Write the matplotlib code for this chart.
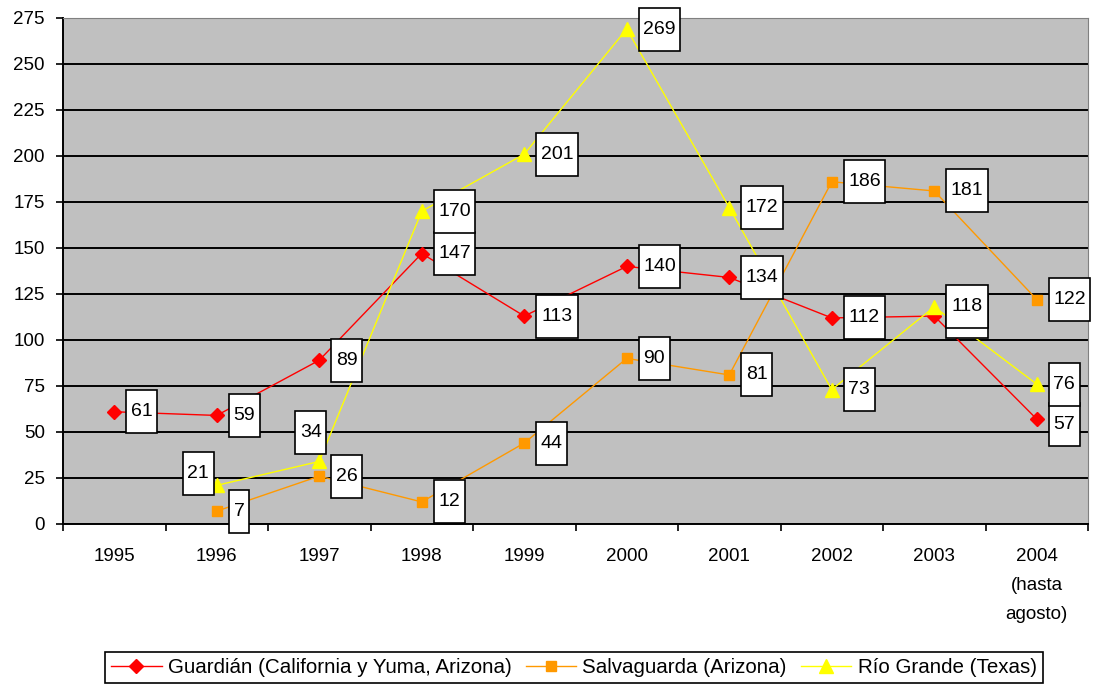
import matplotlib
matplotlib.use("Agg")
import matplotlib.pyplot as plt
from matplotlib.offsetbox import DrawingArea, AnnotationBbox
from matplotlib.patches import Rectangle
from matplotlib.text import Text

plt.rcParams['font.family'] = ['Liberation Sans', 'DejaVu Sans']

years = ["1995", "1996", "1997", "1998", "1999", "2000", "2001", "2002", "2003", "2004\n(hasta\nagosto)"]
guardian = [61, 59, 89, 147, 113, 140, 134, 112, 113, 57]
salvaguarda = [None, 7, 26, 12, 44, 90, 81, 186, 181, 122]
riogrande = [None, 21, 34, 170, 201, 269, 172, 73, 118, 76]

series_names = ["Guardián (California y Yuma, Arizona)", "Salvaguarda (Arizona)", "Río Grande (Texas)"]
series_colors = ["#FF0000", "#FF9900", "#FFFF00"]
series_markers = ["D", "s", "^"]
marker_sizes = [7.5, 7.5, 9.5]
y_ticks = [0, 25, 50, 75, 100, 125, 150, 175, 200, 225, 250, 275]

# label offsets in pixels (dx to box left edge, dy of box centre), special cases
label_offsets = {(2, 1): (-34, 12), (2, 2): (-24, 29), (0, 9): (12, -5)}

DPI = 100
fig = plt.figure(figsize=(10.93, 6.91), dpi=DPI)
ax = fig.add_axes([63/1093, 1-524/691, (1088-63)/1093, (524-18)/691])
ax.set_facecolor("#C0C0C0")

xs = list(range(len(years)))
all_series = [guardian, salvaguarda, riogrande]
for i, vals in enumerate(all_series):
    px = [x for x, v in zip(xs, vals) if v is not None]
    py = [v for v in vals if v is not None]
    ax.plot(px, py, color=series_colors[i], marker=series_markers[i], markersize=marker_sizes[i],
            linewidth=1.0, label=series_names[i], zorder=3,
            markeredgecolor=series_colors[i], markerfacecolor=series_colors[i])

ax.set_xlim(-0.5, len(years) - 0.5)
ax.set_ylim(0, 275)
ax.set_yticks(y_ticks)
ax.yaxis.grid(True, color="black", linewidth=1.4)
ax.set_axisbelow(True)
ax.set_xticks([i - 0.5 for i in range(len(years) + 1)])
ax.set_xticklabels([])
ax.set_xticks(xs, minor=True)
ax.set_xticklabels(years, minor=True, linespacing=1.95)
ax.tick_params(axis="x", which="major", direction="out", length=5, width=1.2, color="black")
ax.tick_params(axis="x", which="minor", length=0, pad=17, labelsize=13.5)
ax.tick_params(axis="y", direction="out", length=5, width=1.2, pad=8, labelsize=13.5)
for s in ["left", "bottom"]:
    ax.spines[s].set_color("black")
    ax.spines[s].set_linewidth(1.4)
for s in ["top", "right"]:
    ax.spines[s].set_color("#808080")
    ax.spines[s].set_linewidth(0.8)

px2pt = 72.0 / DPI
BOX_H = 43
for i, vals in enumerate(all_series):
    for j, v in enumerate(vals):
        if v is None:
            continue
        s = str(v)
        w = 10.5 * len(s) + 10
        dx, dy = label_offsets.get((i, j), (12, 0))
        da = DrawingArea(w * px2pt, BOX_H * px2pt, 0, 0)
        da.add_artist(Rectangle((0, 0), w * px2pt, BOX_H * px2pt, facecolor="white",
                                edgecolor="black", linewidth=1.2))
        da.add_artist(Text(w * px2pt / 2, BOX_H * px2pt / 2, s, ha="center", va="center",
                           fontsize=14, color="black", family=['Liberation Sans', 'DejaVu Sans']))
        ab = AnnotationBbox(da, (xs[j], v), xybox=(dx * px2pt, dy * px2pt), xycoords="data",
                            boxcoords="offset points", box_alignment=(0, 0.5), frameon=False,
                            pad=0, annotation_clip=False, zorder=5 + i)
        ax.add_artist(ab)

leg = fig.legend(loc="upper left", bbox_to_anchor=(105/1093, 1-652/691), ncol=3,
                 fontsize=14.8, frameon=True, fancybox=False, edgecolor="black",
                 framealpha=1, handlelength=2.45, handletextpad=0.3, columnspacing=0.7,
                 borderaxespad=0, borderpad=0.3)
leg.get_frame().set_linewidth(1.2)

fig.savefig("out.png", dpi=DPI)
